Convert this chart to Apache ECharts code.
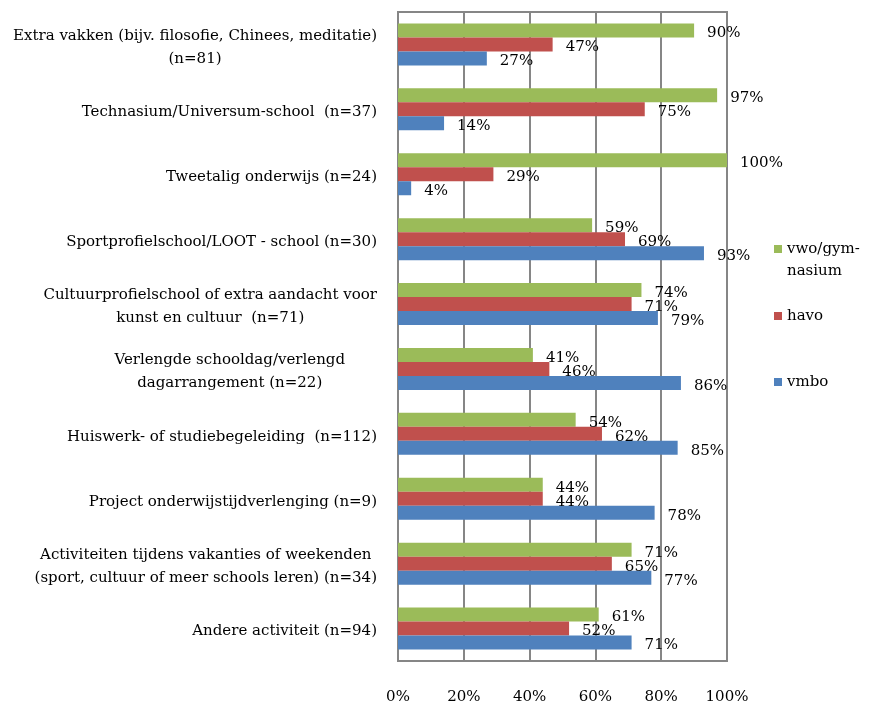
<!DOCTYPE html>
<html><head><meta charset="utf-8">
<script src="https://cdn.jsdelivr.net/npm/echarts@6/dist/echarts.min.js"></script>
<style>html,body{margin:0;padding:0;background:#fff}#c{width:872px;height:705px}</style>
</head><body><div id="c"></div>
<script>
const categories = [
  "Extra vakken (bijv. filosofie, Chinees, meditatie)\n(n=81)",
  "Technasium/Universum-school  (n=37)",
  "Tweetalig onderwijs (n=24)",
  "Sportprofielschool/LOOT - school (n=30)",
  "Cultuurprofielschool of extra aandacht voor\nkunst en cultuur  (n=71)",
  "Verlengde schooldag/verlengd\ndagarrangement (n=22)",
  "Huiswerk- of studiebegeleiding  (n=112)",
  "Project onderwijstijdverlenging (n=9)",
  "Activiteiten tijdens vakanties of weekenden\n(sport, cultuur of meer schools leren) (n=34)",
  "Andere activiteit (n=94)"
];
const seriesNames = ['vwo/gym-nasium', 'havo', 'vmbo'];
const vwo  = [90, 97, 100, 59, 74, 41, 54, 44, 71, 61];
const havo = [47, 75, 29, 69, 71, 46, 62, 44, 65, 52];
const vmbo = [27, 14, 4, 93, 79, 86, 85, 78, 77, 71];
const xTicks = [0, 20, 40, 60, 80, 100];

const FONT = 'DejaVu Serif';
const FS = 15;
const chart = echarts.init(document.getElementById('c'), null, {renderer: 'canvas'});
const lbl = {show: true, position: 'right', distance: 13, offset: [0, 3], formatter: '{c}%',
  fontFamily: FONT, fontSize: FS, color: '#000'};
function mk(name, data, color) {
  return {name, type: 'bar', data, barWidth: 14, barGap: '0%',
    itemStyle: {color}, label: lbl, silent: true};
}
function legend(name, top, text) {
  return {data: [name], left: 769, top, orient: 'vertical', icon: 'rect', itemWidth: 8, itemHeight: 8,
    itemGap: 4, selectedMode: false,
    formatter: () => text,
    textStyle: {fontFamily: FONT, fontSize: FS, color: '#000', lineHeight: 22}};
}
chart.setOption({
  animation: false,
  textStyle: {fontFamily: FONT},
  grid: {left: 398, right: 145, top: 12, bottom: 43, show: true, borderColor: '#868686', borderWidth: 2, backgroundColor: 'transparent'},
  legend: [legend(seriesNames[0], 233, 'vwo/gym-'), legend(seriesNames[1], 300, 'havo'), legend(seriesNames[2], 366, 'vmbo')],
  graphic: [{type: 'text', left: 787, top: 264, silent: true,
    style: {text: 'nasium', fontFamily: FONT, fontSize: FS, fill: '#000'}}],
  xAxis: {type: 'value', min: 0, max: 100, interval: 20,
    axisLine: {show: false}, axisTick: {show: false},
    splitLine: {lineStyle: {color: '#868686', width: 2}},
    axisLabel: {margin: 29, formatter: v => v + '%', fontFamily: FONT, fontSize: FS, color: '#000',
      customValues: xTicks}},
  yAxis: {type: 'category', inverse: true, data: categories,
    axisLine: {show: true, lineStyle: {color: '#868686', width: 2}}, axisTick: {show: false},
    axisLabel: {margin: 21, color: '#000', fontFamily: FONT, fontSize: FS, padding: [6, 0, 0, 0],
      formatter: (v) => {
        const sty = v.startsWith('Verlengde') ? 'v' : 'c';
        return v.split('\n').map(s => '{' + sty + '|' + s + '}').join('\n');
      },
      rich: {
        c: {align: 'center', fontFamily: FONT, fontSize: FS, color: '#000', lineHeight: 23},
        v: {align: 'center', fontFamily: FONT, fontSize: FS, color: '#000', lineHeight: 23, padding: [0, 32, 0, 0]}
      }}},
  series: [mk(seriesNames[0], vwo, '#9BBB59'), mk(seriesNames[1], havo, '#C0504D'), mk(seriesNames[2], vmbo, '#4F81BD')]
});
</script></body></html>
